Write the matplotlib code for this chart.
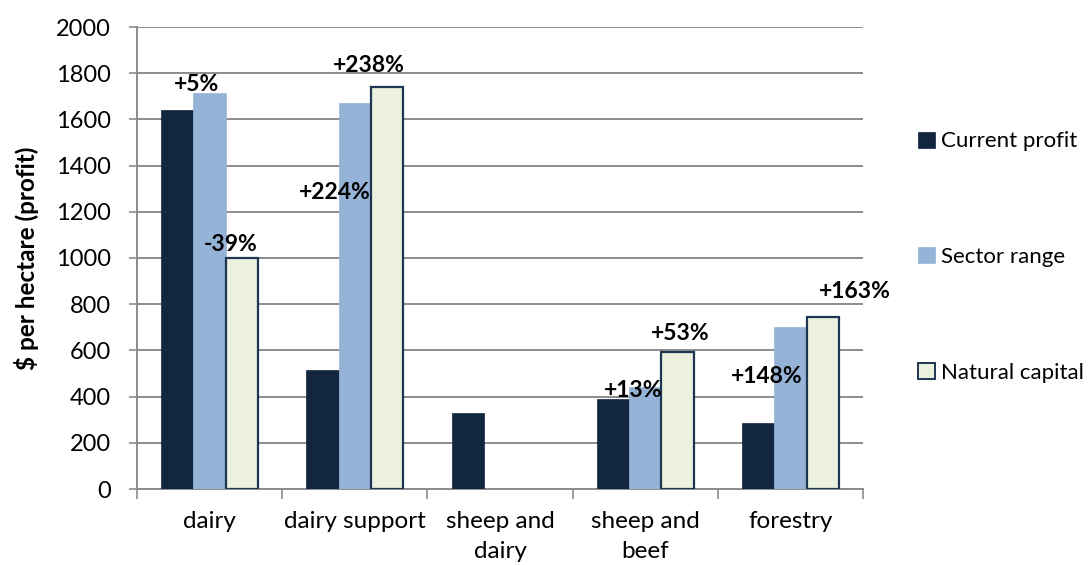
import matplotlib
matplotlib.use("Agg")
import matplotlib.pyplot as plt
import numpy as np
from matplotlib.patches import Patch

categories = ["dairy", "dairy support", "sheep and\ndairy", "sheep and\nbeef", "forestry"]
current_profit = [1640, 515, 330, 388, 284]
sector_range = [1715, 1670, 0, 440, 703]
natural_capital = [1000, 1740, 0, 594, 746]
series_names = ["Current profit", "Sector range", "Natural capital"]
yticks = [0, 200, 400, 600, 800, 1000, 1200, 1400, 1600, 1800, 2000]

# annotations: text, category index, series index
annot_text = ["+5%", "-39%", "+224%", "+238%", "+13%", "+53%", "+148%", "+163%"]
annot_cat = [0, 0, 1, 1, 3, 3, 4, 4]
annot_ser = [1, 2, 1, 2, 1, 2, 1, 2]
# offsets (layout) in bar-width units and value units
annot_dx = [-0.4, -0.35, -0.62, -0.58, -0.36, 0.07, -0.75, 1.0]
annot_dy = [38, 60, -385, 95, -12, 80, -218, 110]

plt.rcParams['font.family'] = ['Lato', 'DejaVu Sans']

fig = plt.figure(figsize=(10.9, 5.65), dpi=100)
ax = fig.add_axes([137/1090, 1-489/565, (863-137)/1090, (489-27)/565])

colors = ["#13263F", "#95B3D7", "#EBF1DE"]
edges = ["#13263F", "#95B3D7", "#1E3652"]
width = 0.222
x = np.arange(len(categories))
data = [current_profit, sector_range, natural_capital]
for i, (vals, c, e) in enumerate(zip(data, colors, edges)):
    v = np.array(vals, dtype=float)
    m = v > 0
    ax.bar(x[m] + (i - 1) * width, v[m], width, color=c, edgecolor=e,
           linewidth=1.6 if i == 2 else 0.5, zorder=3, label=series_names[i])

for t, ci, si, dx, dy in zip(annot_text, annot_cat, annot_ser, annot_dx, annot_dy):
    bx = ci + (si - 1) * width + dx * width
    by = data[si][ci] + dy
    ax.text(bx, by, t, ha='center', va='center', fontsize=16.5, fontweight='bold',
            color='black', zorder=5)

ax.set_ylim(0, 2000)
ax.set_xlim(-0.5, len(categories) - 0.5)
ax.set_yticks(yticks)
ax.yaxis.grid(True, color='#8C8C8C', linewidth=1.4, zorder=0)
ax.set_axisbelow(True)
for s in ['top', 'right']:
    ax.spines[s].set_visible(False)
for s in ['left', 'bottom']:
    ax.spines[s].set_color('#8C8C8C')
    ax.spines[s].set_linewidth(1.4)
ax.tick_params(axis='y', length=6, color='#8C8C8C', width=1.2, labelsize=17, pad=13)
ax.set_xticks(x)
ax.set_xticklabels(categories, fontsize=17.5, linespacing=1.5)
ax.tick_params(axis='x', which='major', length=0, pad=16)
ax.set_xticks(np.arange(-0.5, len(categories)), minor=True)
ax.tick_params(axis='x', which='minor', length=7, color='#8C8C8C', width=1.2)

ax.set_ylabel("$ per hectare (profit)", fontsize=17.5, fontweight='bold', labelpad=12)

handles = [Patch(facecolor=c, edgecolor=e, linewidth=1.4 if i == 2 else 0.5)
           for i, (c, e) in enumerate(zip(colors, edges))]
fig.legend(handles, series_names, loc='center left', bbox_to_anchor=(898/1090, 1-257/565),
           frameon=False, fontsize=16, labelspacing=4.3, handlelength=0.75,
           handleheight=0.75, handletextpad=0.3, borderpad=0.4)

fig.savefig("out.png", dpi=100)
